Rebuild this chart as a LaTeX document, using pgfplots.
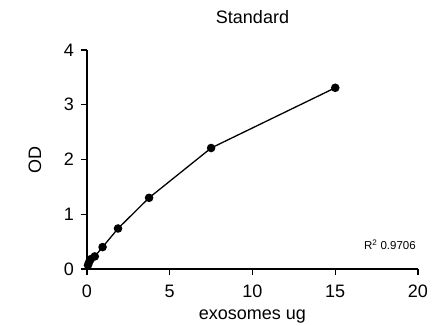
\documentclass[border=0pt]{standalone}
\usepackage{pgfplots}
\pgfplotsset{compat=1.18}
\usepackage{fontspec}
\setmainfont{Liberation Sans}
\begin{document}
\fontsize{18pt}{21pt}\selectfont
\begin{tikzpicture}
\useasboundingbox (-87pt,-56pt) rectangle (350pt,269pt);
\begin{axis}[
  at={(0,0)}, anchor=south west,
  scale only axis, width=331pt, height=219pt,
  xmin=0, xmax=20, ymin=0, ymax=4,
  axis x line*=bottom, axis y line*=left,
  axis line style={line width=1.3pt},
  xtick={0,5,10,15,20}, ytick={0,1,2,3,4},
  tick style={line width=1.3pt, black},
  tick align=outside, major tick length=6pt,
  /pgf/number format/assume math mode=true,
  ticklabel style={font=\fontsize{18pt}{21pt}\selectfont},
  xticklabel style={yshift=-4pt},
  yticklabel style={xshift=-1pt},
  clip=false,
]
\addplot[black, line width=1.3pt, mark=*, mark size=3.6pt] coordinates {
  (0.06,0.07) (0.12,0.12) (0.23,0.18) (0.47,0.23) (0.94,0.40)
  (1.875,0.74) (3.75,1.30) (7.5,2.21) (15,3.31)
};
\node[font=\fontsize{11.5pt}{13pt}\selectfont] at (axis cs:18.3,0.44) {R\textsuperscript{2} 0.9706};
\node[font=\fontsize{18pt}{21pt}\selectfont, anchor=center] at ([yshift=33pt]rel axis cs:0.5,1) {Standard};
\node[font=\fontsize{18pt}{21pt}\selectfont, anchor=center] at ([yshift=-48pt]rel axis cs:0.5,0) {exosomes ug};
\node[font=\fontsize{18pt}{21pt}\selectfont, anchor=center, rotate=90] at ([xshift=-52pt]rel axis cs:0,0.5) {OD};
\end{axis}
\end{tikzpicture}
\end{document}
